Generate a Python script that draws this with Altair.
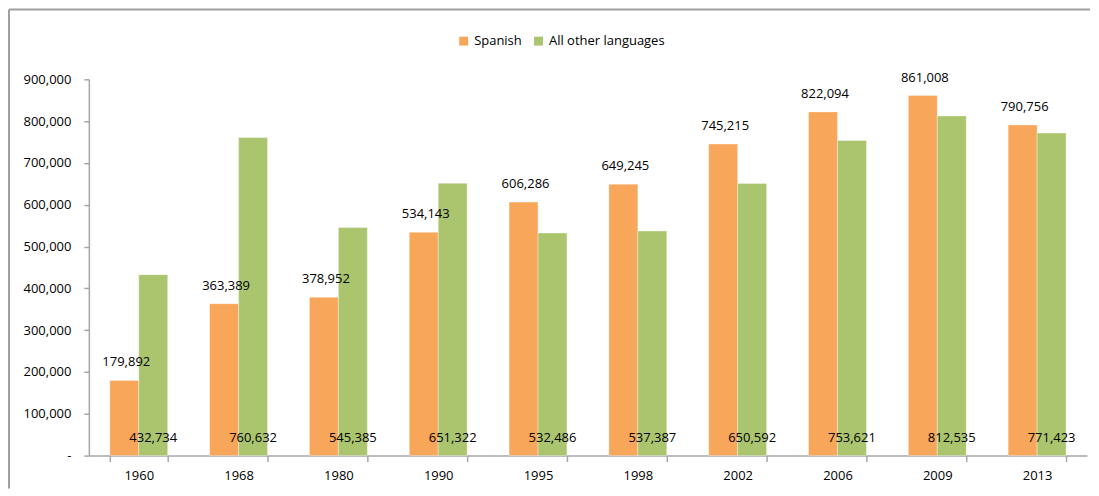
import altair as alt
import pandas as pd

years = ["1960", "1968", "1980", "1990", "1995", "1998", "2002", "2006", "2009", "2013"]
spanish = [179892, 363389, 378952, 534143, 606286, 649245, 745215, 822094, 861008, 790756]
other = [432734, 760632, 545385, 651322, 532486, 537387, 650592, 753621, 812535, 771423]
series_names = ["Spanish", "All other languages"]
colors = ["#F8A65A", "#ABC56F"]
y_ticks = [0, 100000, 200000, 300000, 400000, 500000, 600000, 700000, 800000, 900000]

rows = []
for i, yr in enumerate(years):
    rows.append({"year": yr, "series": series_names[0], "value": spanish[i]})
    rows.append({"year": yr, "series": series_names[1], "value": other[i]})
df = pd.DataFrame(rows)

FONT = "Open Sans"
AXIS_GRAY = "#A6A6A6"

x_enc = alt.X("year:N", sort=years, title=None,
              scale=alt.Scale(paddingInner=0.42, paddingOuter=0.21),
              axis=alt.Axis(labelAngle=0, tickBand="extent", tickSize=6,
                            labelPadding=8, domainColor=AXIS_GRAY, tickColor=AXIS_GRAY,
                            domainWidth=1.5, tickWidth=1.5, labelFontSize=13,
                            labelFont=FONT, labelColor="#000000"))
xoff = alt.XOffset("series:N", sort=series_names,
                   scale=alt.Scale(domain=series_names, paddingInner=0, paddingOuter=0))
y_scale = alt.Scale(domain=[0, 900000], nice=False)

bars = alt.Chart(df).mark_bar(stroke="#FFFFFF", strokeOpacity=0.35, strokeWidth=1).encode(
    x=x_enc,
    xOffset=xoff,
    y=alt.Y("value:Q", scale=y_scale, title=None,
            axis=alt.Axis(values=y_ticks, grid=False, tickSize=5, labelPadding=13,
                          domainColor=AXIS_GRAY, tickColor=AXIS_GRAY,
                          domainWidth=1.5, tickWidth=1.5,
                          labelFontSize=13, labelFont=FONT, labelColor="#000000",
                          labelExpr="datum.value == 0 ? '-' : format(datum.value, ',')")),
    color=alt.Color("series:N", sort=series_names,
                    scale=alt.Scale(domain=series_names, range=colors),
                    legend=alt.Legend(title=None, orient="none", direction="horizontal",
                                      legendX=369, legendY=-45, symbolType="square",
                                      symbolSize=80, symbolStrokeWidth=0, labelFontSize=13,
                                      labelFont=FONT, labelColor="#000000", labelOffset=4,
                                      columnPadding=10, padding=0, symbolOpacity=1)),
)

span_labels = alt.Chart(df).transform_filter(
    alt.datum.series == "Spanish"
).mark_text(font=FONT, fontSize=13, color="#000000", baseline="middle", dy=-18, dx=2).encode(
    x=alt.X("year:N", sort=years),
    xOffset=xoff,
    y=alt.Y("value:Q", scale=y_scale),
    text=alt.Text("value:Q", format=","),
)

other_labels = alt.Chart(df).transform_filter(
    alt.datum.series == "All other languages"
).mark_text(font=FONT, fontSize=13, color="#000000", baseline="middle", dy=-18).encode(
    x=alt.X("year:N", sort=years),
    xOffset=xoff,
    y=alt.datum(0),
    text=alt.Text("value:Q", format=","),
)

frame_data = alt.Data(values=[{"k": 1}])
left_border = alt.Chart(frame_data).mark_rule(color="#A0A0A0", strokeWidth=2).encode(
    x=alt.value(-80), y=alt.value(-70), y2=alt.value(410))
top_border = alt.Chart(frame_data).mark_rule(color="#A0A0A0", strokeWidth=2).encode(
    x=alt.value(-80), x2=alt.value(1003), y=alt.value(-70))

chart = alt.layer(bars, span_labels, other_labels, left_border, top_border).properties(
    width=1000, height=377, padding=0
).configure_view(stroke=None)

chart.save("out.html", embed_options={"renderer": "svg", "actions": False})
